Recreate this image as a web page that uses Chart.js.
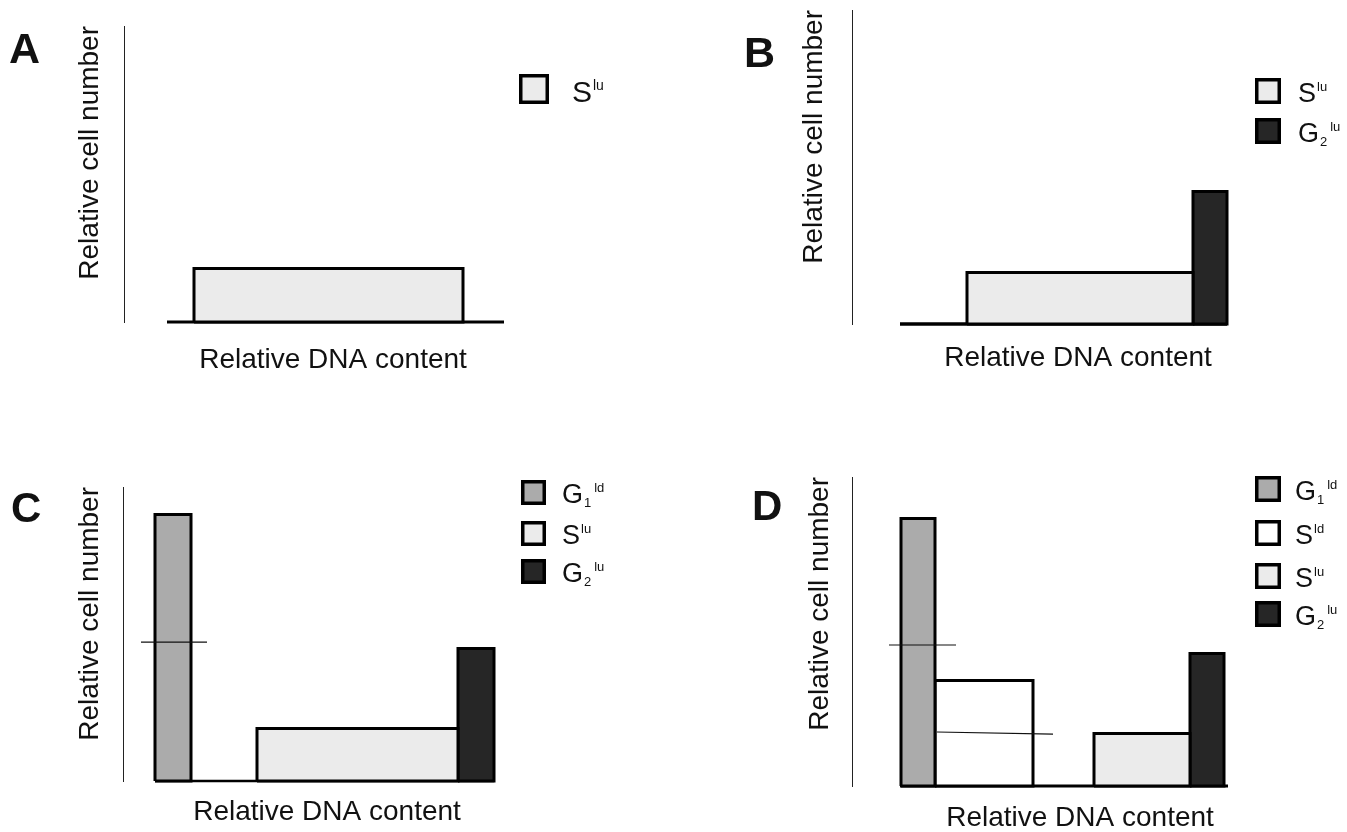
<!DOCTYPE html>
<html>
<head>
<meta charset="utf-8">
<script src="https://cdn.jsdelivr.net/npm/chart.js@4.4.0/dist/chart.umd.min.js"></script>
<style>
html, body { margin: 0; padding: 0; background: #fff; }
#wrap { position: relative; width: 1347px; height: 832px; }
#wrap canvas { position: absolute; left: 0; top: 0; }
</style>
</head>
<body>
<div id="wrap">
  <canvas id="panelA" width="1347" height="832"></canvas>
  <canvas id="panelB" width="1347" height="832"></canvas>
  <canvas id="panelC" width="1347" height="832"></canvas>
  <canvas id="panelD" width="1347" height="832"></canvas>
</div>
<script>
// cell-cycle phases used in the legends: letter, subscript, superscript
const phaseKeys = ['G1ld', 'Sld', 'Slu', 'G2lu'];
const phaseBase = ['G', 'S', 'S', 'G'];
const phaseSub  = ['1', '', '', '2'];
const phaseSup  = ['ld', 'ld', 'lu', 'lu'];

// x = relative DNA content (start/end of each block), y = relative cell number
// panel A
const aPhases   = ['Slu'];
const aStart    = [17.5];
const aEnd      = [84.75];
const aHeight   = [17.8];
const aBaseline = [10.75, 95];

// panel B
const bPhases   = ['Slu', 'G2lu'];
const bStart    = [28.75, 85.25];
const bEnd      = [85.25, 93.75];
const bHeight   = [17.2, 44.2];
const bBaseline = [12, 93.75];

// panel C
const cPhases   = ['G1ld', 'Slu', 'G2lu'];
const cStart    = [8, 33.5, 83.75];
const cEnd      = [17, 83.75, 92.75];
const cHeight   = [88.8, 17.5, 44.2];
const cBaseline = [8, 92.75];
const cMarkFrom = [4.5];
const cMarkTo   = [21];
const cMarkLeft = [46.3];
const cMarkRight = [46.3];

// panel D
const dPhases   = ['G1ld', 'Sld', 'Slu', 'G2lu'];
const dStart    = [12.25, 20.75, 60.5, 84.5];
const dEnd      = [20.75, 45.25, 84.5, 93];
const dHeight   = [89.2, 35.2, 17.5, 44.2];
const dBaseline = [12, 94];
const dMarkFrom = [9.25, 21.25];
const dMarkTo   = [26, 50.25];
const dMarkLeft = [47, 18];
const dMarkRight = [47, 17.3];

const phaseFill = { G1ld: '#ababab', Sld: '#ffffff', Slu: '#ebebeb', G2lu: '#262626' };
const FONT = '"Liberation Sans", Arial, sans-serif';
const TITLE_LH = 28 * 1.2;

function drawPhaseLabel(ctx, key, x, y, size) {
  const i = phaseKeys.indexOf(key);
  ctx.font = size + 'px ' + FONT;
  ctx.fillText(phaseBase[i], x, y);
  const w = ctx.measureText(phaseBase[i]).width;
  ctx.font = Math.round(size * 0.48) + 'px ' + FONT;
  let sx = x + w + 1;
  if (phaseSub[i]) {
    ctx.fillText(phaseSub[i], x + w + 1, y + 4);
    sx = x + w + 1 + ctx.measureText(phaseSub[i]).width + 3;
  }
  ctx.fillText(phaseSup[i], sx, y - Math.round(size * 0.4));
}

const panelDecor = {
  id: 'panelDecor',
  afterDraw(chart, args, opts) {
    const ctx = chart.ctx;
    ctx.save();
    ctx.fillStyle = '#111';
    ctx.textAlign = 'left';
    ctx.textBaseline = 'alphabetic';
    ctx.font = 'bold ' + opts.letterSize + 'px ' + FONT;
    ctx.fillText(opts.letter, opts.letterX, opts.letterY);

    const lg = opts.legend;
    chart.data.datasets.filter(d => d.phase).forEach((d, i) => {
      const bx = lg.x, by = lg.ys[i], s = lg.size;
      ctx.fillStyle = d.backgroundColor;
      ctx.fillRect(bx, by, s, s);
      ctx.lineWidth = 3.5;
      ctx.strokeStyle = '#000';
      ctx.strokeRect(bx + 1.75, by + 1.75, s - 3.5, s - 3.5);
      ctx.fillStyle = '#111';
      drawPhaseLabel(ctx, d.label, lg.textX, by + s - 2, lg.font);
    });
    ctx.restore();
  }
};

function blockData(x0, x1, h) {
  return [{x: x0, y: 0}, {x: x0, y: h}, {x: x1, y: h}, {x: x1, y: 0}, {x: x0, y: 0}];
}

function makePanel(id, p, lay) {
  const datasets = [];
  p.phases.forEach((ph, i) => {
    datasets.push({
      label: ph, phase: true,
      data: blockData(p.start[i], p.end[i], p.height[i]),
      backgroundColor: phaseFill[ph], borderColor: '#000', borderWidth: 3,
      fill: 'shape', pointRadius: 0, borderJoinStyle: 'miter', order: 1, clip: false
    });
  });
  datasets.push({
    label: 'baseline',
    data: [{x: p.baseline[0], y: 0}, {x: p.baseline[1], y: 0}],
    borderColor: '#000', borderWidth: lay.baseW, pointRadius: 0, fill: false, order: 2, clip: false
  });
  (p.markFrom || []).forEach((x0, i) => {
    datasets.push({
      label: 'marker',
      data: [{x: x0, y: p.markLeft[i]}, {x: p.markTo[i], y: p.markRight[i]}],
      borderColor: '#111', borderWidth: 1.2, pointRadius: 0, fill: false, order: 0, clip: false
    });
  });

  const yW = TITLE_LH + lay.yGap;
  const xH = TITLE_LH + lay.xGap;
  new Chart(document.getElementById(id), {
    type: 'line',
    data: { datasets: datasets },
    plugins: [panelDecor],
    options: {
      responsive: false,
      animation: false,
      events: [],
      layout: { padding: {
        left: lay.left - yW, top: lay.top,
        right: 1347 - lay.right, bottom: 832 - lay.bottom - xH
      } },
      plugins: {
        legend: { display: false },
        tooltip: { enabled: false },
        panelDecor: lay.decor
      },
      scales: {
        x: {
          type: 'linear', min: 0, max: lay.xMax,
          grid: { display: false, drawTicks: false },
          ticks: { display: false },
          border: { display: false },
          title: { display: true, text: 'Relative DNA content', color: '#111',
                   font: { family: FONT, size: 28, lineHeight: 1.2 },
                   padding: { top: lay.xGap, bottom: 0 } }
        },
        y: {
          type: 'linear', min: 0, max: lay.yMax,
          grid: { display: false, drawTicks: false },
          ticks: { display: false },
          border: { display: true, color: '#222', width: 1 },
          title: { display: true, text: 'Relative cell number', align: 'end', color: '#111',
                   font: { family: FONT, size: 28, lineHeight: 1.2 },
                   padding: { top: 0, bottom: lay.yGap } }
        }
      }
    }
  });
}

makePanel('panelA',
  { phases: aPhases, start: aStart, end: aEnd, height: aHeight, baseline: aBaseline },
  { left: 124, top: 26, right: 542, bottom: 322, xMax: 104.5, yMax: 98.7, yGap: 17.2, xGap: 21.2, baseW: 3,
    decor: { letter: 'A', letterX: 9, letterY: 63, letterSize: 43,
             legend: { x: 519, ys: [74], size: 30, textX: 572, font: 30 } } });

makePanel('panelB',
  { phases: bPhases, start: bStart, end: bEnd, height: bHeight, baseline: bBaseline },
  { left: 852, top: 10, right: 1304, bottom: 324, xMax: 113, yMax: 104.7, yGap: 20.7, xGap: 17.2, baseW: 3.5,
    decor: { letter: 'B', letterX: 744, letterY: 67, letterSize: 43,
             legend: { x: 1255, ys: [78, 118], size: 26, textX: 1298, font: 27 } } });

makePanel('panelC',
  { phases: cPhases, start: cStart, end: cEnd, height: cHeight, baseline: cBaseline,
    markFrom: cMarkFrom, markTo: cMarkTo, markLeft: cMarkLeft, markRight: cMarkRight },
  { left: 123, top: 487, right: 531, bottom: 781, xMax: 102, yMax: 98, yGap: 16.2, xGap: 14.2, baseW: 2.5,
    decor: { letter: 'C', letterX: 11, letterY: 522, letterSize: 42,
             legend: { x: 521, ys: [480, 521, 559], size: 25, textX: 562, font: 27 } } });

makePanel('panelD',
  { phases: dPhases, start: dStart, end: dEnd, height: dHeight, baseline: dBaseline,
    markFrom: dMarkFrom, markTo: dMarkTo, markLeft: dMarkLeft, markRight: dMarkRight },
  { left: 852, top: 477, right: 1308, bottom: 786, xMax: 114, yMax: 103, yGap: 15.2, xGap: 15.2, baseW: 3,
    decor: { letter: 'D', letterX: 752, letterY: 520, letterSize: 42,
             legend: { x: 1255, ys: [476, 520, 563, 601], size: 26, textX: 1295, font: 27 } } });
</script>
</body>
</html>
